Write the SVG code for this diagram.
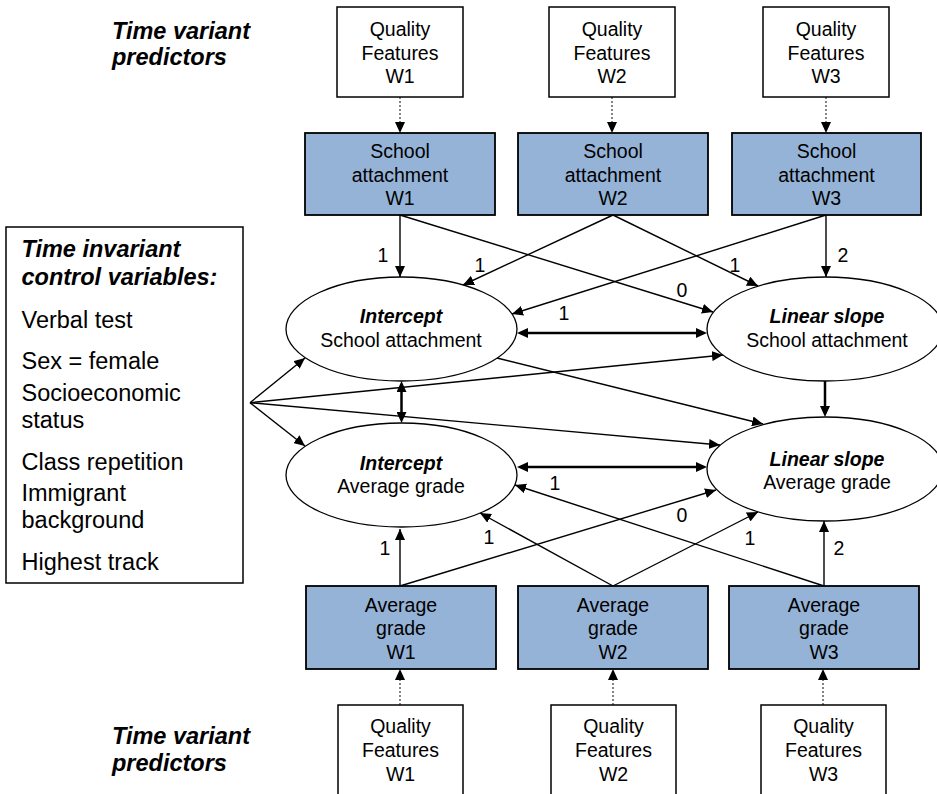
<svg xmlns="http://www.w3.org/2000/svg" width="937" height="794" viewBox="0 0 937 794">
<defs>
<marker id="ah" markerUnits="userSpaceOnUse" markerWidth="12" markerHeight="10" refX="11" refY="5" orient="auto-start-reverse" viewBox="0 0 12 10"><path d="M0,0 L11,5 L0,10 z" fill="#000"/></marker>
<marker id="aht" markerUnits="userSpaceOnUse" markerWidth="12" markerHeight="10" refX="4" refY="5" orient="auto-start-reverse" viewBox="0 0 12 10"><path d="M0,0 L11,5 L0,10 z" fill="#000"/></marker>
</defs>
<style>
text{font-family:"Liberation Sans",Arial,sans-serif;font-size:19.5px;fill:#000}
.c{text-anchor:middle}
.bi{font-weight:bold;font-style:italic}
.big{font-size:23.5px}
.q{fill:#fff;stroke:#000;stroke-width:1.5}
.b{fill:#95b3d7;stroke:#000;stroke-width:1.8}
.e{fill:#fff;stroke:#000;stroke-width:1.3}
.l{fill:none;stroke:#000;stroke-width:1.4;marker-end:url(#ah)}
.t{fill:none;stroke:#000;stroke-width:2.5;marker-end:url(#aht)}
.tt{marker-start:url(#aht)}
.d{fill:none;stroke:#333;stroke-width:1.2;stroke-dasharray:2 2;marker-end:url(#ah)}
</style>
<rect width="937" height="794" fill="#fff"/>

<g id="labels-left">
<text class="bi big" x="112" y="39">Time variant</text>
<text class="bi big" x="112" y="65">predictors</text>
<text class="bi big" x="112" y="744">Time variant</text>
<text class="bi big" x="112" y="771">predictors</text>
</g>

<g id="controls">
<rect x="6" y="227" width="237" height="356" fill="#fff" stroke="#000" stroke-width="1.5"/>
<text class="bi big" x="21.5" y="257">Time invariant</text>
<text class="bi big" x="21.5" y="285">control variables:</text>
<text class="big" x="21.5" y="328">Verbal test</text>
<text class="big" x="21.5" y="369">Sex = female</text>
<text class="big" x="21.5" y="401">Socioeconomic</text>
<text class="big" x="21.5" y="428">status</text>
<text class="big" x="21.5" y="470">Class repetition</text>
<text class="big" x="21.5" y="501">Immigrant</text>
<text class="big" x="21.5" y="528">background</text>
<text class="big" x="21.5" y="570">Highest track</text>
</g>

<g id="connectors">
<path class="d" d="M400,97 V133"/>
<path class="d" d="M612,97 V133"/>
<path class="d" d="M826,97 V133"/>
<path class="l" d="M400,215 V277"/>
<path class="l" d="M400,215 L713,312"/>
<path class="l" d="M613,215 L463,285"/>
<path class="l" d="M613,215 L758,286"/>
<path class="l" d="M826,215 L512,314"/>
<path class="l" d="M826,215 V277"/>
<path class="t tt" d="M524,333 H700"/>
<path class="t tt" d="M401.5,388 V416"/>
<path class="t" d="M825,381 V410"/>
<path class="l" d="M497,358 L763,424"/>
<path class="l" d="M250,402.7 L305,358"/>
<path class="l" d="M250,402.7 L723,355"/>
<path class="l" d="M250,402.7 L305,446"/>
<path class="l" d="M250,402.7 L720,445"/>
<path class="t tt" d="M524,467 H700"/>
<path class="l" d="M400,586 V529"/>
<path class="l" d="M400,586 L716,490"/>
<path class="l" d="M613,586 L480,513"/>
<path class="l" d="M613,586 L758,512"/>
<path class="l" d="M824,586 L515,485"/>
<path class="l" d="M824,586 V521"/>
<path class="d" d="M400,705 V669"/>
<path class="d" d="M613,705 V669"/>
<path class="d" d="M823,705 V669"/>
<text class="c" x="383" y="262">1</text>
<text class="c" x="480" y="272">1</text>
<text class="c" x="735" y="272">1</text>
<text class="c" x="843" y="262">2</text>
<text class="c" x="682" y="297">0</text>
<text class="c" x="564" y="320">1</text>
<text class="c" x="385" y="555">1</text>
<text class="c" x="489" y="544">1</text>
<text class="c" x="750" y="545">1</text>
<text class="c" x="839" y="555">2</text>
<text class="c" x="682" y="522">0</text>
<text class="c" x="555" y="490">1</text>
</g>

<g id="qf-top-w1"><rect class="q" x="337" y="7" width="126" height="90"/><text class="c" x="400" y="36">Quality</text><text class="c" x="400" y="60">Features</text><text class="c" x="400" y="83">W1</text></g>
<g id="qf-top-w2"><rect class="q" x="549" y="7" width="126" height="90"/><text class="c" x="612" y="36">Quality</text><text class="c" x="612" y="60">Features</text><text class="c" x="612" y="83">W2</text></g>
<g id="qf-top-w3"><rect class="q" x="763" y="7" width="126" height="90"/><text class="c" x="826" y="36">Quality</text><text class="c" x="826" y="60">Features</text><text class="c" x="826" y="83">W3</text></g>

<g id="sa-w1"><rect class="b" x="305" y="133" width="190" height="82"/><text class="c" x="400" y="158">School</text><text class="c" x="400" y="182">attachment</text><text class="c" x="400" y="205">W1</text></g>
<g id="sa-w2"><rect class="b" x="518" y="133" width="190" height="82"/><text class="c" x="613" y="158">School</text><text class="c" x="613" y="182">attachment</text><text class="c" x="613" y="205">W2</text></g>
<g id="sa-w3"><rect class="b" x="732" y="133" width="189" height="82"/><text class="c" x="826.5" y="158">School</text><text class="c" x="826.5" y="182">attachment</text><text class="c" x="826.5" y="205">W3</text></g>

<g id="int-sa"><ellipse class="e" cx="401.5" cy="329" rx="115.5" ry="52"/><text class="c bi" x="401" y="323">Intercept</text><text class="c" x="401" y="347">School attachment</text></g>
<g id="slope-sa"><ellipse class="e" cx="825" cy="329" rx="118" ry="52"/><text class="c bi" x="827" y="323">Linear slope</text><text class="c" x="827" y="347">School attachment</text></g>
<g id="int-ag"><ellipse class="e" cx="401.5" cy="475" rx="115.5" ry="52"/><text class="c bi" x="401" y="470">Intercept</text><text class="c" x="401" y="493">Average grade</text></g>
<g id="slope-ag"><ellipse class="e" cx="825" cy="469" rx="118" ry="52"/><text class="c bi" x="827" y="466">Linear slope</text><text class="c" x="827" y="489">Average grade</text></g>

<g id="ag-w1"><rect class="b" x="306" y="586" width="190" height="83"/><text class="c" x="401" y="612">Average</text><text class="c" x="401" y="635">grade</text><text class="c" x="401" y="659">W1</text></g>
<g id="ag-w2"><rect class="b" x="518" y="586" width="190" height="83"/><text class="c" x="613" y="612">Average</text><text class="c" x="613" y="635">grade</text><text class="c" x="613" y="659">W2</text></g>
<g id="ag-w3"><rect class="b" x="729" y="586" width="190" height="83"/><text class="c" x="824" y="612">Average</text><text class="c" x="824" y="635">grade</text><text class="c" x="824" y="659">W3</text></g>

<g id="qf-bot-w1"><rect class="q" x="338" y="705" width="125" height="92"/><text class="c" x="400.5" y="733">Quality</text><text class="c" x="400.5" y="757">Features</text><text class="c" x="400.5" y="781">W1</text></g>
<g id="qf-bot-w2"><rect class="q" x="551" y="705" width="125" height="92"/><text class="c" x="613.5" y="733">Quality</text><text class="c" x="613.5" y="757">Features</text><text class="c" x="613.5" y="781">W2</text></g>
<g id="qf-bot-w3"><rect class="q" x="761" y="705" width="125" height="92"/><text class="c" x="823.5" y="733">Quality</text><text class="c" x="823.5" y="757">Features</text><text class="c" x="823.5" y="781">W3</text></g>
</svg>
